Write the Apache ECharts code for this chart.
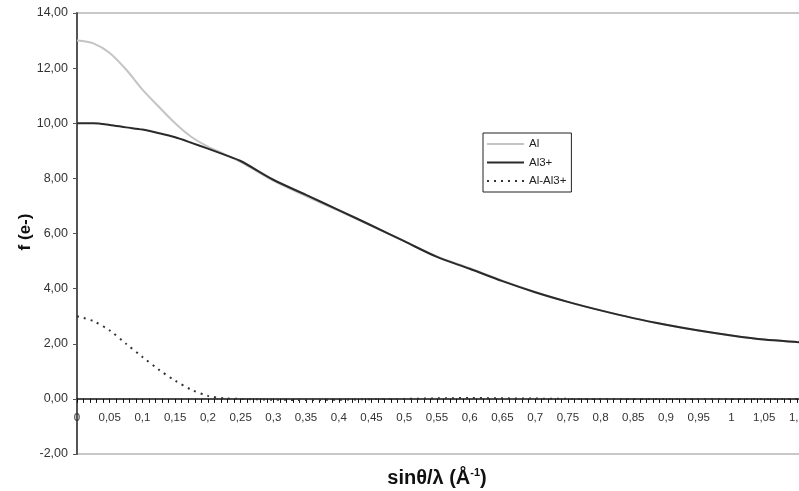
<!DOCTYPE html>
<html>
<head>
<meta charset="utf-8">
<script src="https://cdn.jsdelivr.net/npm/echarts@6/dist/echarts.min.js"></script>
<style>
html,body{margin:0;padding:0;background:#fff;}
#c{width:799px;height:491px;}
</style>
</head>
<body>
<div id="c"></div>
<script>
// sinθ/λ values (Å^-1)
const sValues   = [0, 0.025, 0.05, 0.075, 0.1, 0.125, 0.15, 0.175, 0.2, 0.225, 0.25, 0.3, 0.35, 0.4, 0.45, 0.5, 0.55, 0.6, 0.65, 0.7, 0.75, 0.8, 0.85, 0.9, 0.95, 1.0, 1.05, 1.1, 1.12];
// f(Al)
const alValues  = [13.0, 12.9, 12.55, 11.95, 11.22, 10.6, 10.0, 9.5, 9.15, 8.88, 8.6, 7.92, 7.36, 6.82, 6.28, 5.72, 5.17, 4.74, 4.29, 3.88, 3.52, 3.21, 2.93, 2.69, 2.48, 2.30, 2.15, 2.06, 2.03];
// f(Al3+)
const al3Values = [10.0, 10.0, 9.94, 9.85, 9.77, 9.64, 9.49, 9.29, 9.08, 8.86, 8.63, 7.95, 7.40, 6.85, 6.29, 5.72, 5.15, 4.72, 4.27, 3.87, 3.52, 3.21, 2.93, 2.69, 2.48, 2.30, 2.15, 2.06, 2.03];
// f(Al) - f(Al3+)
const diffValues = [3.0, 2.82, 2.48, 2.0, 1.52, 1.06, 0.66, 0.33, 0.11, 0.02, 0.0, -0.03, -0.04, -0.03, -0.01, 0.0, 0.02, 0.03, 0.02, 0.01, 0.0, 0.0, 0.0, 0.0, 0.0, 0.0, 0.0, 0.0, 0.0];
const seriesNames = ['Al', 'Al3+', 'Al-Al3+'];

const pair = vals => sValues.map((s, i) => [s, vals[i]]);

const chart = echarts.init(document.getElementById('c'), null, {renderer: 'canvas'});
const FONT = '"Liberation Sans", Arial, sans-serif';

const GRID_TOP = 13, GRID_H = 441, Y_MIN = -2, Y_MAX = 14;
const zeroOffset = -GRID_H * (0 - Y_MIN) / (Y_MAX - Y_MIN);

chart.setOption({
  animation: false,
  backgroundColor: '#ffffff',
  grid: {
    left: 77, top: GRID_TOP, width: 733, height: GRID_H,
    outerBoundsMode: 'none', containLabel: false,
    show: true, borderColor: '#c8c8c8', borderWidth: 2, backgroundColor: 'transparent'
  },
  legend: {
    orient: 'vertical',
    left: 483, top: 133,
    padding: [5, 5, 5, 3],
    itemWidth: 37, itemHeight: 14, itemGap: 6.5,
    backgroundColor: '#fff',
    borderColor: '#222', borderWidth: 1,
    itemStyle: {opacity: 0},
    textStyle: {fontFamily: FONT, fontSize: 11.5, color: '#222'},
    data: seriesNames.map(n => ({name: n}))
  },
  xAxis: {
    type: 'value',
    min: 0, max: 1.12, interval: 0.05,
    offset: zeroOffset,
    axisLine: {onZero: false, lineStyle: {color: '#111', width: 1.5}},
    axisTick: {show: true, length: 4, lineStyle: {color: '#111', width: 1}},
    minorTick: {show: true, splitNumber: 5, length: 4, lineStyle: {color: '#111', width: 1}},
    splitLine: {show: false},
    axisLabel: {
      margin: 13, fontFamily: FONT, fontSize: 11.5, color: '#333',
      formatter: v => v > 1.105 ? '' : String(Math.round(v * 100) / 100).replace('.', ',')
    }
  },
  yAxis: {
    type: 'value',
    min: Y_MIN, max: Y_MAX, interval: 2,
    axisLine: {show: true, lineStyle: {color: '#555', width: 2}},
    axisTick: {show: true, length: 4, lineStyle: {color: '#555'}},
    splitLine: {show: false},
    axisLabel: {
      margin: 9, fontFamily: FONT, fontSize: 12.5, color: '#333',
      formatter: v => v.toFixed(2).replace('.', ',')
    }
  },
  graphic: [
    {
      type: 'text', x: 25, y: 232, rotation: Math.PI / 2,
      style: {text: 'f (e-)', fontFamily: FONT, fontSize: 17, fontWeight: 'bold', fill: '#111',
              align: 'center', verticalAlign: 'middle'}
    },
    {
      type: 'text', x: 437, y: 478,
      style: {
        text: '{a|sinθ/λ (Å}{s|-1}{a|)}',
        align: 'center', verticalAlign: 'middle',
        rich: {
          a: {fontFamily: FONT, fontSize: 20, fontWeight: 'bold', fill: '#111', verticalAlign: 'bottom'},
          s: {fontFamily: FONT, fontSize: 11, fontWeight: 'bold', fill: '#111', verticalAlign: 'top', padding: [0, 0, 10, 0]}
        }
      }
    }
  ],
  series: [
    {
      name: seriesNames[0], type: 'line', data: pair(alValues), smooth: 0.3,
      symbol: 'none', lineStyle: {color: '#c4c4c4', width: 2}, itemStyle: {color: '#c4c4c4'}, z: 2
    },
    {
      name: seriesNames[1], type: 'line', data: pair(al3Values), smooth: 0.3,
      symbol: 'none', lineStyle: {color: '#2a2a2a', width: 2}, itemStyle: {color: '#2a2a2a'}, z: 3
    },
    {
      name: seriesNames[2], type: 'line', data: pair(diffValues), smooth: 0.3,
      symbol: 'none', lineStyle: {color: '#333', width: 2, type: [2, 5]}, itemStyle: {color: '#333'}, z: 4
    }
  ]
});
</script>
</body>
</html>
